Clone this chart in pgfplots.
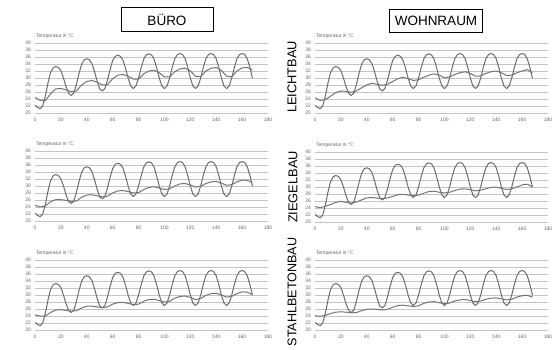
\documentclass[border=0pt]{standalone}
\usepackage{fontspec}
\setmainfont{Liberation Sans}
\usepackage{pgfplots}
\usepackage{pgfplotstable}
\pgfplotsset{compat=1.18}

\pgfplotstableread{
x y
0 22.2
2 21.6
4 21.2
6 22.0
8 24.8
10 28.5
12 31.5
14 32.9
16 33.3
18 33.0
20 32.1
22 30.0
24 27.5
26 25.6
28 25.0
30 25.7
32 28.2
34 31.3
36 33.9
38 35.2
40 35.5
42 35.2
44 34.1
46 31.8
48 29.1
50 26.9
52 26.3
54 27.0
56 29.4
58 32.4
60 35.0
62 36.2
64 36.5
66 36.2
68 35.1
70 32.7
72 29.9
74 27.7
76 27.0
78 27.7
80 30.0
82 32.9
84 35.4
86 36.6
88 36.9
90 36.6
92 35.4
94 32.9
96 30.0
98 27.7
100 27.0
102 27.7
104 30.0
106 33.0
108 35.5
110 36.7
112 37.0
114 36.7
116 35.5
118 33.0
120 30.0
122 27.7
124 27.0
126 27.7
128 30.0
130 33.0
132 35.5
134 36.7
136 37.0
138 36.7
140 35.5
142 33.0
144 30.0
146 27.7
148 27.0
150 27.7
152 30.0
154 33.0
156 35.5
158 36.7
160 37.0
162 36.7
164 35.5
166 33.0
168 30.0
}\outdoor

% indoor tables: columns x, bl (Buero Leicht), wl (Wohn Leicht), bz, wz, bs, ws
\pgfplotstableread{
x bl wl bz wz bs ws
0 24.5 24.3 24.5 24.4 24.3 24.1
4 23.6 23.6 24.0 24.1 24.0 23.9
8 23.5 23.8 24.3 24.5 24.0 24.2
12 25.5 24.8 25.5 25.0 25.0 24.7
16 26.9 25.8 26.1 25.6 25.7 25.1
20 27.0 26.3 26.1 25.9 25.8 25.2
24 26.6 26.2 25.9 25.6 25.6 25.1
28 26.1 25.9 25.6 25.4 25.4 24.9
32 26.3 26.3 25.7 25.7 25.5 25.0
36 28.0 27.2 26.8 26.3 26.3 25.5
40 29.0 28.0 27.4 26.9 26.8 25.9
44 29.3 28.5 27.5 27.0 26.8 26.0
48 28.8 28.2 27.2 26.8 26.6 25.9
52 28.0 27.9 26.9 26.7 26.4 25.7
56 28.1 28.2 27.1 26.9 26.6 25.9
60 29.8 29.0 28.0 27.3 27.4 26.5
64 30.8 29.8 28.6 27.8 27.8 27.0
68 31.0 30.2 28.7 27.9 27.9 27.1
72 30.5 29.8 28.4 27.7 27.6 26.9
76 29.7 29.3 28.0 27.5 27.2 26.7
80 29.7 29.5 28.1 27.7 27.4 26.9
84 31.2 30.2 29.0 28.2 28.2 27.6
88 32.0 30.8 29.6 28.7 28.7 28.0
92 32.2 31.2 29.8 28.8 28.8 28.1
96 31.5 30.8 29.4 28.5 28.4 27.8
100 30.3 30.1 29.0 28.3 28.0 27.5
104 30.3 30.3 29.2 28.5 28.2 27.7
108 31.8 31.0 30.0 29.0 29.1 28.3
112 32.6 31.5 30.6 29.4 29.6 28.6
116 32.8 31.8 30.7 29.5 29.7 28.7
120 32.0 31.3 30.3 29.2 29.3 28.4
124 30.5 30.5 29.7 28.9 28.7 28.1
128 30.4 30.6 29.9 29.1 29.0 28.3
132 32.0 31.3 30.7 29.5 29.9 28.8
136 32.8 31.8 31.2 29.9 30.4 29.1
140 33.0 32.0 31.3 30.0 30.5 29.2
144 32.2 31.5 30.8 29.6 30.0 28.9
148 30.5 30.7 30.2 29.3 29.4 28.6
152 30.4 30.8 30.4 29.5 29.6 28.8
156 32.0 31.5 31.2 30.0 30.4 29.4
160 32.9 32.0 31.7 30.6 30.9 29.8
164 33.0 32.4 31.6 30.8 30.8 29.9
168 32.3 31.5 31.0 30.0 30.1 29.4
}\indoor

\definecolor{outc}{HTML}{6C6C6C}
\definecolor{inc}{HTML}{7A7272}
\definecolor{gridc}{HTML}{C4C4C4}
\definecolor{tickc}{HTML}{666666}

\pgfplotsset{panel/.style={
  scale only axis, width=233pt, height=70pt,
  xmin=0, xmax=180, ymin=20, ymax=40,
  xtick={0,20,...,180}, ytick={20,22,...,40},
  ymajorgrids, major grid style={gridc, line width=0.5pt},
  axis line style={draw=none},
  major tick length=0pt,
  tick label style={font=\fontsize{5}{6}\selectfont, text=tickc},
  /pgf/number format/assume math mode=true,
  xticklabel style={yshift=-1.5pt},
  yticklabel style={xshift=-0.5pt},
  title={Temperatur in °C},
  title style={at={(rel axis cs:0,1)}, anchor=west, fill=white, inner sep=1pt,
    font=\fontsize{5}{6}\selectfont, text=tickc, yshift=1pt},
  every axis plot/.append style={no marks, line width=1pt, line join=round},
}}

\begin{document}
\begin{tikzpicture}[x=1pt,y=1pt]
\useasboundingbox (0,0) rectangle (560,-350);

% left column: BUERO
\begin{axis}[panel, at={(35pt,-113pt)}, anchor=south west]
\addplot[outc] table[x=x,y=y]{\outdoor};
\addplot[inc] table[x=x,y=bl]{\indoor};
\end{axis}
\begin{axis}[panel, at={(35pt,-221pt)}, anchor=south west]
\addplot[outc] table[x=x,y=y]{\outdoor};
\addplot[inc] table[x=x,y=bz]{\indoor};
\end{axis}
\begin{axis}[panel, at={(35pt,-330pt)}, anchor=south west]
\addplot[outc] table[x=x,y=y]{\outdoor};
\addplot[inc] table[x=x,y=bs]{\indoor};
\end{axis}

% right column: WOHNRAUM
\begin{axis}[panel, at={(315pt,-113pt)}, anchor=south west]
\addplot[outc] table[x=x,y=y]{\outdoor};
\addplot[inc] table[x=x,y=wl]{\indoor};
\end{axis}
\begin{axis}[panel, at={(315pt,-222pt)}, anchor=south west]
\addplot[outc] table[x=x,y=y]{\outdoor};
\addplot[inc] table[x=x,y=wz]{\indoor};
\end{axis}
\begin{axis}[panel, at={(315pt,-330pt)}, anchor=south west]
\addplot[outc] table[x=x,y=y]{\outdoor};
\addplot[inc] table[x=x,y=ws]{\indoor};
\end{axis}

% headers
\node[draw=black, line width=1pt, minimum width=92pt, minimum height=24pt, inner sep=0pt,
  font=\fontsize{13.5}{14}\selectfont] at (167,-20) {BÜRO};
\node[draw=black, line width=1pt, minimum width=93pt, minimum height=23pt, inner sep=0pt,
  font=\fontsize{13.5}{14}\selectfont] at (436,-21) {WOHNRAUM};

% row labels
\node[rotate=90, font=\fontsize{12.8}{13}\selectfont, inner sep=0pt] at (292,-77) {LEICHTBAU};
\node[rotate=90, font=\fontsize{12.8}{13}\selectfont, inner sep=0pt] at (293,-187) {ZIEGELBAU};
\node[rotate=90, font=\fontsize{12.6}{13}\selectfont, inner sep=0pt] at (292,-292) {STAHLBETONBAU};
\end{tikzpicture}
\end{document}
